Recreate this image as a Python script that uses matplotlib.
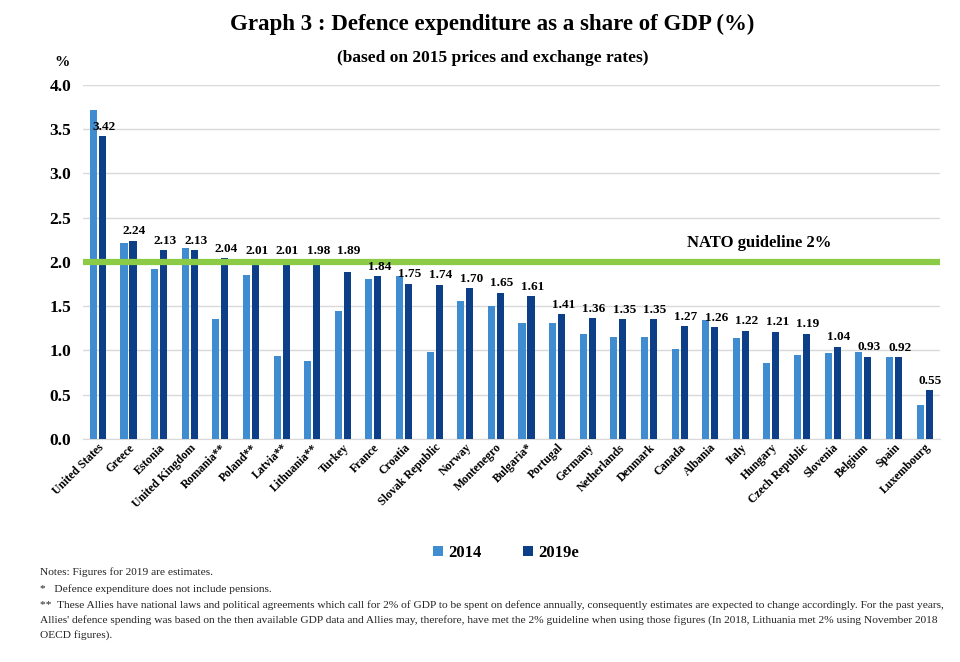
import matplotlib
matplotlib.use("Agg")
import matplotlib.pyplot as plt
import numpy as np

countries = ["United States", "Greece", "Estonia", "United Kingdom", "Romania**", "Poland**",
             "Latvia**", "Lithuania**", "Turkey", "France", "Croatia", "Slovak Republic", "Norway",
             "Montenegro", "Bulgaria*", "Portugal", "Germany", "Netherlands", "Denmark", "Canada",
             "Albania", "Italy", "Hungary", "Czech Republic", "Slovenia", "Belgium", "Spain",
             "Luxembourg"]
v2014 = [3.72, 2.21, 1.92, 2.16, 1.35, 1.85, 0.94, 0.88, 1.45, 1.81, 1.84, 0.98, 1.56,
         1.50, 1.31, 1.31, 1.18, 1.15, 1.15, 1.01, 1.34, 1.14, 0.86, 0.95, 0.97, 0.98, 0.92, 0.38]
v2019 = [3.42, 2.24, 2.13, 2.13, 2.04, 2.01, 2.01, 1.98, 1.89, 1.84, 1.75, 1.74, 1.70,
         1.65, 1.61, 1.41, 1.36, 1.35, 1.35, 1.27, 1.26, 1.22, 1.21, 1.19, 1.04, 0.93, 0.92, 0.55]
# drawn heights of 2019 bars (Poland/Latvia sit under the guideline line in the original)
v2019_bar = [3.42, 2.24, 2.13, 2.13, 2.04, 1.98, 1.98, 1.98, 1.89, 1.84, 1.75, 1.74, 1.70,
             1.65, 1.61, 1.41, 1.36, 1.35, 1.35, 1.27, 1.26, 1.22, 1.21, 1.19, 1.04, 0.93, 0.92, 0.55]
series_names = ["2014", "2019e"]
guideline = 2.0
yticks = [0.0, 0.5, 1.0, 1.5, 2.0, 2.5, 3.0, 3.5, 4.0]

c14 = "#3F8DD0"
c19 = "#0D3F88"
serif = ["Liberation Serif", "DejaVu Serif"]

fig = plt.figure(figsize=(9.6, 6.62), dpi=100)
ax = fig.add_axes([0.086, 0.337, 0.893, 0.535])

x = np.arange(len(countries))
w = 0.23
off = 0.147
ax.bar(x - off, v2014, w, color=c14, label=series_names[0], zorder=3)
ax.bar(x + off, v2019_bar, w, color=c19, label=series_names[1], zorder=3)

for xi, val, h in zip(x, v2019, v2019_bar):
    ytop = max(h, 2.02) if h >= 1.86 else h
    ax.annotate(f"{val:.2f}", (xi + off + 0.05, ytop), xytext=(0, 2.5), textcoords="offset points",
                ha="center", va="bottom", fontsize=9.5, fontweight="bold", family=serif, zorder=5)

ax.axhline(guideline, color="#8CCB45", lw=4.5, zorder=4)
ax.text(21.6, 2.12, "NATO guideline 2%", ha="center", va="bottom", fontsize=12,
        fontweight="bold", family=serif)

ax.set_xlim(-0.5, len(countries) - 0.5)
ax.set_ylim(0, 4.0)
ax.set_yticks(yticks)
ax.set_yticklabels([f"{t:.1f}" for t in yticks], fontsize=12.5, fontweight="bold", family=serif)
ax.yaxis.grid(True, color="#D9D9D9", lw=1, zorder=0)
ax.set_axisbelow(True)
ax.tick_params(axis="y", length=0, pad=8)
ax.tick_params(axis="x", length=0, pad=2)
ax.set_xticks(x)
ax.set_xticklabels(countries, rotation=45, ha="right", rotation_mode="anchor",
                   fontsize=8.5, fontweight="bold", family=serif)
for s in ["top", "right", "left"]:
    ax.spines[s].set_visible(False)
ax.spines["bottom"].set_color("#D9D9D9")

fig.text(0.065, 0.905, "%", fontsize=11, fontweight="bold", family=serif, ha="center", va="center")
fig.text(0.513, 0.963, "Graph 3 : Defence expenditure as a share of GDP (%)", ha="center",
         va="center", fontsize=16.5, fontweight="bold", family=serif)
fig.text(0.513, 0.913, "(based on 2015 prices and exchange rates)", ha="center", va="center",
         fontsize=12.5, fontweight="bold", family=serif)

leg = fig.legend(loc="center", bbox_to_anchor=(0.527, 0.165), ncol=2, frameon=False,
                 prop={"family": serif, "weight": "bold", "size": 12},
                 handlelength=0.6, handleheight=0.6, columnspacing=2.5, handletextpad=0.3)

notes = [
    (0.135, "Notes: Figures for 2019 are estimates."),
    (0.110, "*   Defence expenditure does not include pensions."),
    (0.086, "**  These Allies have national laws and political agreements which call for 2% of GDP to be spent on defence annually, consequently estimates are expected to change accordingly. For the past years,"),
    (0.064, "Allies' defence spending was based on the then available GDP data and Allies may, therefore, have met the 2% guideline when using those figures (In 2018, Lithuania met 2% using November 2018"),
    (0.040, "OECD figures)."),
]
for yy, t in notes:
    fig.text(0.042, yy, t, fontsize=8.2, family=serif, color="#222222", va="center", ha="left")

fig.savefig("out.png", dpi=100)
